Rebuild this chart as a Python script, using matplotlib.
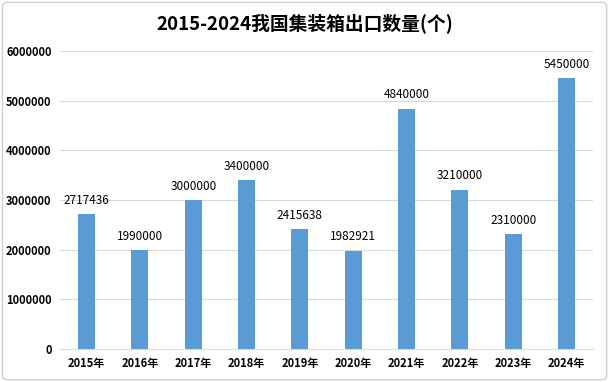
import numpy as np
import matplotlib.pyplot as plt
from matplotlib.patches import FancyBboxPatch

plt.rcParams['font.family'] = ['Noto Sans CJK SC', 'DejaVu Sans']

years = ['2015年', '2016年', '2017年', '2018年', '2019年',
         '2020年', '2021年', '2022年', '2023年', '2024年']
exports = [2717436, 1990000, 3000000, 3400000, 2415638,
           1982921, 4840000, 3210000, 2310000, 5450000]

fig = plt.figure(figsize=(6.09, 3.82), dpi=100)
ax = fig.add_axes([0.0985, 0.0864, 0.8755, 0.7801])

x = np.arange(len(years))
ax.bar(x, exports, width=0.32, color='#5B9BD5', zorder=3)

for xi, v in zip(x, exports):
    ax.text(xi, v + 150000, str(v), ha='center', va='bottom', fontsize=8.5)

ax.set_xlim(-0.5, len(years) - 0.5)
ax.set_ylim(0, 6000000)
ax.set_yticks(np.arange(0, 6000001, 1000000))
ax.set_yticklabels([str(t) for t in range(0, 6000001, 1000000)],
                   fontsize=8, fontweight='bold')
ax.set_xticks(x)
ax.set_xticklabels(years, fontsize=8, fontweight='bold')
ax.tick_params(length=0, pad=6)
ax.grid(axis='y', color='#D9D9D9', linewidth=0.8, zorder=0)
for s in ['top', 'right', 'left']:
    ax.spines[s].set_visible(False)
ax.spines['bottom'].set_color('#D9D9D9')

fig.text(0.5, 0.94, '2015-2024我国集装箱出口数量(个)', ha='center', va='center',
         fontsize=13.5, fontweight='bold')

border = FancyBboxPatch((0.004, 0.006), 0.992, 0.988,
                        boxstyle='round,pad=0,rounding_size=0.01',
                        transform=fig.transFigure, fill=False,
                        edgecolor='#D0D0D0', linewidth=1)
fig.patches.append(border)

fig.savefig('out.png', dpi=100)
